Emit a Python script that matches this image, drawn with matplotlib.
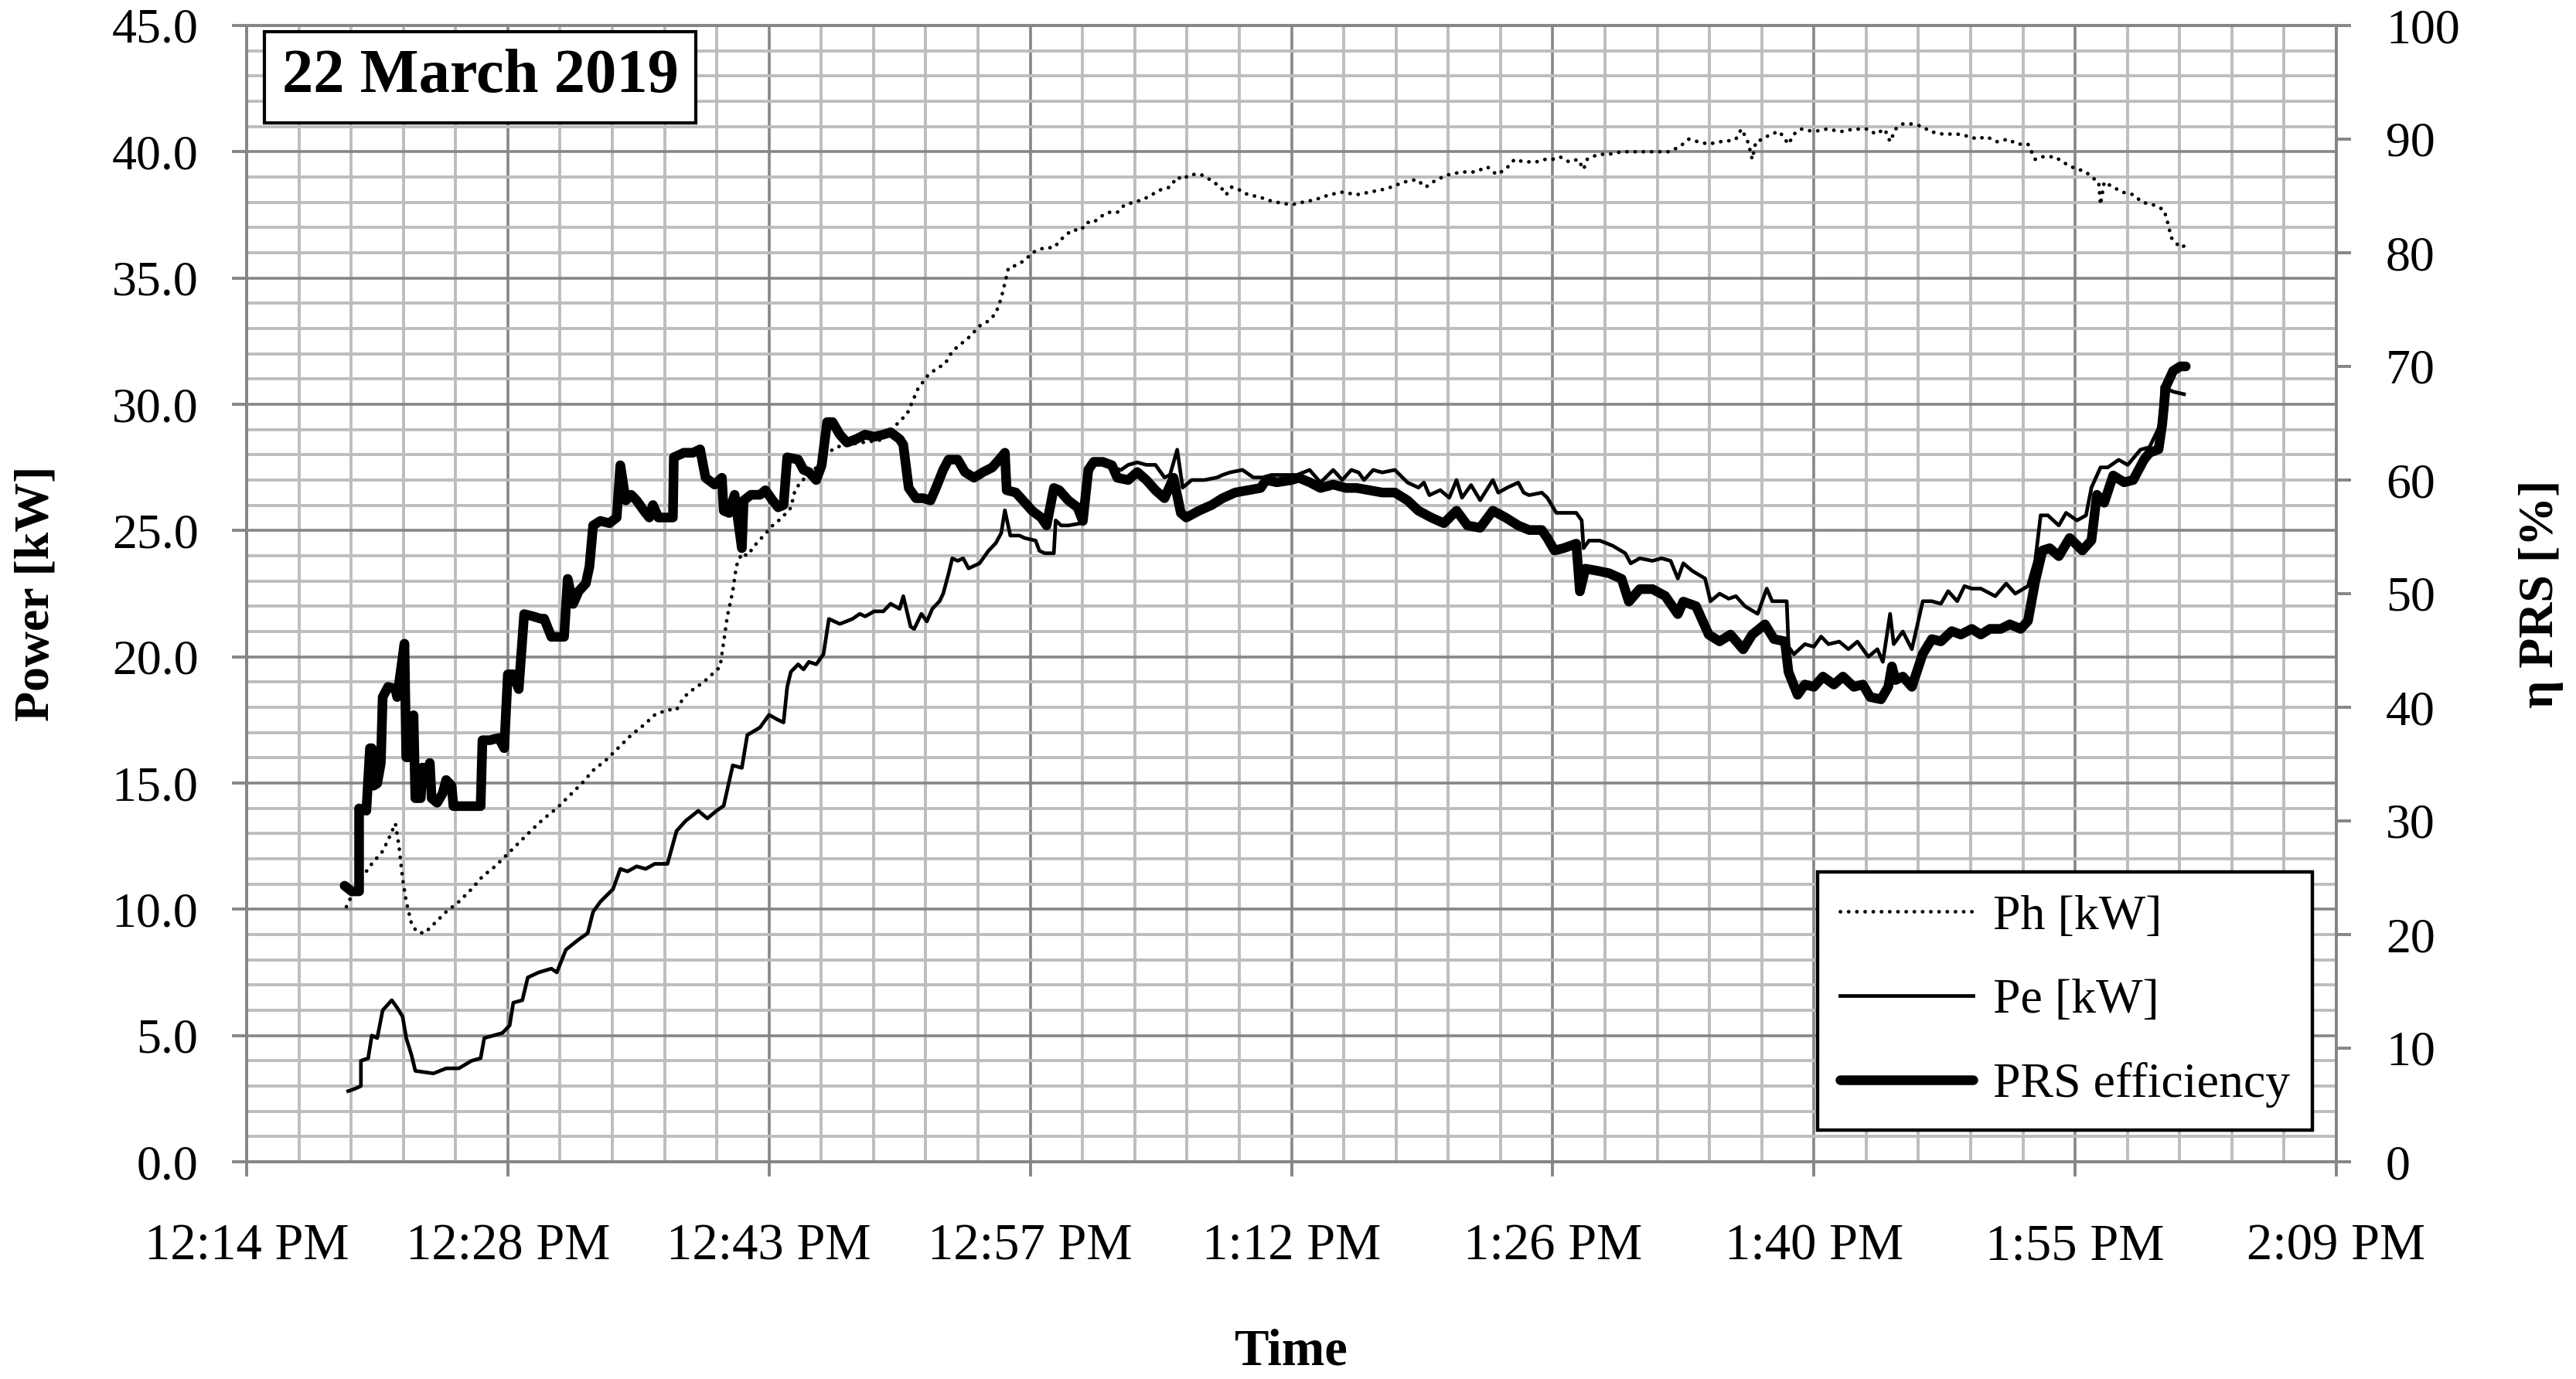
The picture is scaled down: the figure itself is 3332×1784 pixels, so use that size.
import numpy as np
import matplotlib.pyplot as plt
from matplotlib.ticker import MultipleLocator, FixedLocator, FuncFormatter

plt.rcParams['font.family'] = ['Liberation Serif', 'DejaVu Serif']

# time axis: minutes after 12:00 (12:14.4 PM .. 2:09.6 PM = 0.51 .. 0.59 day)
x_ticks = [14.4, 28.8, 43.2, 57.6, 72.0, 86.4, 100.8, 115.2, 129.6]
x_tick_labels = ['12:14 PM', '12:28 PM', '12:43 PM', '12:57 PM', '1:12 PM',
                 '1:26 PM', '1:40 PM', '1:55 PM', '2:09 PM']

# Ph [kW] (dotted)
ph_t = [19.9, 20.3, 20.8, 21.3, 21.9, 22.3, 22.6, 22.8, 23.0, 23.2, 23.5, 23.8, 24.2, 24.7,
        25.4, 26.1, 26.8, 27.4, 28.1, 28.8, 29.5, 30.2, 30.8, 31.5, 32.2, 32.9, 33.5, 34.2,
        34.9, 35.6, 36.3, 36.9, 37.6, 38.1, 38.5, 39.0, 39.6, 40.2, 40.5, 40.7, 40.9, 41.2,
        41.4, 41.7, 42.0, 42.4, 42.9, 43.4, 43.9, 44.4, 44.6, 44.9, 45.7, 46.3, 46.9, 47.5,
        48.5, 49.5, 50.1, 50.5, 50.8, 51.1, 51.4, 51.9, 52.4, 52.9, 53.3, 53.8, 54.3, 54.8,
        55.3, 55.7, 56.0, 56.2, 56.4, 56.8, 57.3, 57.7, 58.0, 58.4, 58.9, 59.4, 59.9, 60.4,
        60.7, 61.1, 61.4, 61.9, 62.4, 62.8, 63.3, 63.8, 64.3, 64.8, 65.3, 65.7, 66.0, 66.4,
        67.0, 67.5, 68.1, 68.4, 68.7, 69.1, 69.6, 70.3, 70.6, 71.2, 72.0, 72.6, 73.3, 74.1,
        74.8, 75.6, 76.3, 77.0, 77.5, 78.2, 78.9, 79.4, 80.0, 80.7, 81.4, 82.1, 82.8, 83.3,
        83.8, 84.3, 84.8, 85.5, 86.0, 86.4, 86.8, 87.3, 87.8, 88.1, 88.3, 88.9, 89.5, 90.2,
        90.7, 91.4, 92.1, 92.8, 93.4, 93.9, 94.4, 95.0, 95.6, 95.9, 96.5, 96.8, 97.1, 97.2,
        97.4, 97.6, 98.0, 98.4, 98.9, 99.4, 99.7, 100.1, 100.8, 101.5, 102.3, 103.0, 103.8,
        104.2, 104.7, 105.0, 105.3, 105.7, 106.2, 106.8, 107.2, 107.9, 108.7, 109.4, 109.8,
        110.3, 110.9, 111.5, 112.0, 112.6, 113.0, 113.3, 114.1, 114.5, 115.0, 115.8, 116.1,
        116.5, 116.6, 116.8, 117.3, 117.8, 118.4, 118.9, 119.5, 120.1, 120.3, 120.5, 121.0,
        121.3]
ph_kw = [10.1, 10.7, 11.3, 11.8, 12.3, 12.9, 13.4, 12.5, 11.2, 10.3, 9.4, 9.1, 9.05, 9.4,
         9.9, 10.3, 10.8, 11.3, 11.7, 12.2, 12.7, 13.2, 13.6, 14.0, 14.5, 15.0, 15.5, 15.9,
         16.4, 16.9, 17.3, 17.7, 17.9, 17.9, 18.4, 18.7, 19.0, 19.4, 19.6, 20.6, 21.6, 22.6,
         23.6, 24.1, 24.0, 24.4, 24.8, 25.2, 25.5, 25.9, 26.5, 26.9, 27.4, 28.0, 28.3, 28.4,
         28.5, 28.6, 29.1, 29.4, 29.6, 30.1, 30.6, 31.1, 31.4, 31.6, 32.1, 32.4, 32.7, 33.1,
         33.3, 33.6, 34.2, 34.8, 35.4, 35.5, 35.7, 36.0, 36.1, 36.2, 36.2, 36.6, 36.9, 36.9,
         37.2, 37.2, 37.4, 37.6, 37.6, 37.9, 38.0, 38.1, 38.3, 38.5, 38.6, 39.0, 38.9, 39.1,
         39.1, 38.9, 38.6, 38.3, 38.6, 38.5, 38.3, 38.2, 38.1, 38.0, 37.9, 38.0, 38.1, 38.3,
         38.4, 38.3, 38.4, 38.5, 38.6, 38.8, 38.9, 38.6, 38.9, 39.1, 39.2, 39.2, 39.4, 39.1,
         39.3, 39.7, 39.6, 39.6, 39.7, 39.7, 39.8, 39.6, 39.7, 39.3, 39.7, 39.9, 39.9, 40.0,
         40.0, 40.0, 40.0, 40.0, 40.2, 40.5, 40.4, 40.3, 40.4, 40.4, 40.5, 40.9, 40.5, 40.3,
         39.7, 40.4, 40.5, 40.7, 40.8, 40.3, 40.7, 40.9, 40.8, 40.9, 40.8, 40.9, 40.9,
         40.7, 40.9, 40.4, 40.9, 41.1, 41.1, 41.0, 40.8, 40.7, 40.7, 40.6, 40.5,
         40.6, 40.4, 40.5, 40.3, 40.3, 39.7, 39.8, 39.8, 39.6, 39.4, 39.2, 39.0,
         38.8, 37.9, 38.8, 38.6, 38.4, 38.3, 38.0, 37.9, 37.7, 37.2, 36.6, 36.2,
         36.3]

# Pe [kW] (thin)
pe_t = [20.0, 20.4, 20.7, 20.7, 21.1, 21.3, 21.6, 21.9, 22.4, 22.7, 23.0, 23.2, 23.5, 23.7,
        24.2, 24.7, 25.4, 26.1, 26.8, 27.3, 27.5, 28.0, 28.5, 28.9, 29.1, 29.6, 29.9, 30.5,
        31.2, 31.5, 32.0, 32.7, 33.2, 33.5, 33.9, 34.6, 35.0, 35.4, 35.9, 36.4, 36.9, 37.6,
        38.1, 38.6, 39.3, 39.8, 40.3, 40.7, 41.2, 41.7, 42.0, 42.7, 43.2, 43.7, 44.0, 44.2,
        44.4, 44.8, 45.1, 45.4, 45.8, 46.2, 46.5, 47.1, 47.8, 48.2, 48.5, 49.0, 49.5, 49.9,
        50.4, 50.6, 51.0, 51.2, 51.6, 51.9, 52.2, 52.6, 52.8, 53.1, 53.3, 53.6, 53.9, 54.2,
        54.8, 55.3, 55.7, 56.0, 56.2, 56.5, 57.0, 57.3, 57.9, 58.1, 58.4, 58.9, 59.0, 59.3,
        59.7, 60.5, 60.8, 61.1, 61.6, 62.1, 62.6, 63.0, 63.5, 64.0, 64.5, 65.0, 65.3, 65.7,
        66.0, 66.5, 67.2, 67.9, 68.2, 68.6, 69.3, 69.9, 70.4, 70.9, 71.6, 72.3, 73.0, 73.6,
        74.3, 74.8, 75.3, 75.7, 76.0, 76.5, 77.0, 77.7, 78.4, 79.0, 79.3, 79.6, 80.2, 80.7,
        81.1, 81.4, 81.9, 82.4, 83.1, 83.4, 83.9, 84.5, 84.8, 85.1, 85.8, 86.1, 86.6, 87.3,
        87.7, 88.0, 88.1, 88.4, 89.0, 89.7, 90.4, 90.7, 91.2, 91.9, 92.4, 92.9, 93.3, 93.6,
        94.1, 94.8, 95.1, 95.6, 96.1, 96.5, 97.0, 97.7, 98.0, 98.2, 98.5, 99.3, 99.4, 99.7,
        100.3, 100.8, 101.2, 101.6, 102.2, 102.7, 103.2, 103.8, 104.3, 104.6, 105.0, 105.2,
        105.7, 106.2, 106.8, 107.3, 107.8, 108.2, 108.7, 109.1, 109.5, 110.0, 110.8, 111.4,
        111.9, 112.6, 113.0, 113.3, 113.7, 114.3, 114.7, 115.3, 115.8, 116.1, 116.6, 117.0,
        117.6, 118.1, 118.8, 119.3, 119.9, 120.0, 120.6, 121.2]
pe_kw = [2.8, 2.9, 3.0, 4.0, 4.1, 5.0, 4.9, 6.0, 6.4, 6.1, 5.75, 4.9, 4.2, 3.6,
         3.55, 3.5, 3.7, 3.7, 4.0, 4.1, 4.9, 5.0, 5.1, 5.4, 6.3, 6.4, 7.3, 7.5,
         7.65, 7.5, 8.4, 8.8, 9.05, 9.9, 10.3, 10.8, 11.6, 11.5, 11.7, 11.6, 11.8, 11.8,
         13.1, 13.5, 13.9, 13.6, 13.9, 14.1, 15.7, 15.6, 16.9, 17.2, 17.7, 17.5, 17.4, 18.8,
         19.4, 19.7, 19.5, 19.8, 19.7, 20.1, 21.5, 21.3, 21.5, 21.7, 21.6, 21.8, 21.8, 22.1,
         21.9, 22.4, 21.2, 21.1, 21.7, 21.4, 21.9, 22.2, 22.5, 23.3, 23.9, 23.8, 23.9, 23.5,
         23.7, 24.2, 24.5, 24.9, 25.8, 24.8, 24.8, 24.7, 24.6, 24.2, 24.1, 24.1, 25.4, 25.2,
         25.2, 25.3, 27.3, 27.6, 27.7, 27.5, 27.4, 27.6, 27.7, 27.6, 27.6, 27.1, 27.2, 28.2,
         26.7, 27.0, 27.0, 27.1, 27.2, 27.3, 27.4, 27.1, 27.1, 27.2, 27.2, 27.2, 27.4, 26.9,
         27.4, 27.0, 27.4, 27.3, 27.0, 27.4, 27.3, 27.4, 26.9, 26.7, 26.9, 26.4, 26.6, 26.3,
         27.0, 26.3, 26.8, 26.2, 27.0, 26.5, 26.7, 26.9, 26.5, 26.4, 26.5, 26.3, 25.7, 25.7,
         25.7, 25.4, 24.3, 24.6, 24.6, 24.4, 24.1, 23.7, 23.9, 23.8, 23.9, 23.8, 23.1, 23.7,
         23.4, 23.1, 22.2, 22.5, 22.3, 22.4, 22.0, 21.7, 22.3, 22.7, 22.2, 22.2, 20.4, 20.1,
         20.5, 20.4, 20.8, 20.5, 20.6, 20.3, 20.6, 20.0, 20.3, 19.8, 21.7, 20.5,
         21.0, 20.3, 22.2, 22.2, 22.1, 22.6, 22.2, 22.8, 22.7, 22.7, 22.4, 22.9,
         22.5, 22.8, 23.8, 25.6, 25.6, 25.2, 25.7, 25.4, 25.6, 26.7, 27.5, 27.5,
         27.8, 27.6, 28.2, 28.3, 29.2, 30.7, 30.5, 30.4]

# PRS efficiency [%] (thick, right axis)
prs_t = [19.8, 20.2, 20.6, 20.6, 21.0, 21.2, 21.3, 21.4, 21.6, 21.8, 21.9, 22.2, 22.6, 22.7,
         23.1, 23.2, 23.5, 23.6, 23.7, 24.0, 24.1, 24.3, 24.5, 24.6, 24.9, 25.2, 25.4, 25.7,
         25.8, 26.3, 26.8, 27.3, 27.4, 27.8, 28.3, 28.6, 28.8, 29.1, 29.4, 29.7, 30.2, 30.6,
         30.8, 31.2, 31.5, 31.9, 32.1, 32.4, 32.7, 33.1, 33.3, 33.5, 33.9, 34.4, 34.8, 35.0,
         35.3, 35.6, 35.9, 36.3, 36.6, 36.8, 37.1, 37.9, 37.95, 38.5, 39.0, 39.4, 39.7, 40.2,
         40.6, 40.7, 41.0, 41.3, 41.7, 41.8, 42.2, 42.7, 43.0, 43.4, 43.7, 44.0, 44.2, 44.8,
         45.1, 45.4, 45.8, 46.1, 46.4, 46.7, 47.1, 47.5, 48.0, 48.5, 49.0, 49.5, 49.9, 50.4,
         50.6, 50.9, 51.3, 51.7, 52.1, 52.4, 52.8, 53.1, 53.6, 54.0, 54.5, 55.0, 55.5, 56.0,
         56.2, 56.3, 56.8, 57.2, 57.7, 58.2, 58.5, 58.9, 59.2, 59.7, 60.2, 60.5, 60.8, 61.1,
         61.6, 62.1, 62.4, 63.0, 63.5, 64.0, 64.5, 65.0, 65.5, 65.9, 66.2, 66.9, 67.6, 68.2,
         68.9, 69.6, 70.3, 70.6, 71.2, 72.0, 72.4, 73.0, 73.6, 74.3, 75.0, 75.6, 76.3, 77.0,
         77.7, 78.4, 79.0, 79.7, 80.4, 81.1, 81.7, 82.4, 83.1, 83.8, 84.5, 85.1, 85.8, 86.1,
         86.5, 87.0, 87.7, 87.9, 88.2, 88.9, 89.5, 90.2, 90.6, 91.2, 91.9, 92.6, 93.3, 93.6,
         94.3, 95.0, 95.6, 96.2, 96.9, 97.4, 98.1, 98.6, 99.2, 99.4, 99.9, 100.3, 100.8,
         101.3, 101.9, 102.4, 103.0, 103.5, 103.9, 104.5, 104.9, 105.1, 105.3, 105.7, 106.2,
         106.8, 107.3, 107.8, 108.4, 108.9, 109.5, 110.0, 110.5, 111.1, 111.6, 112.2, 112.6,
         113.0, 113.4, 113.8, 114.3, 114.9, 115.6, 116.1, 116.4, 116.8, 117.3, 117.9, 118.4,
         119.0, 119.3, 119.8, 120.0, 120.2, 120.6, 121.0, 121.3]
prs_pct = [24.3, 23.8, 23.8, 31.1, 30.9, 36.4, 36.4, 33.1, 33.3, 35.1, 40.9, 41.8, 41.6, 40.9,
           45.6, 35.6, 35.6, 39.3, 32.0, 32.0, 34.7, 34.0, 35.1, 32.0, 31.6, 32.4, 33.6, 33.1,
           31.3, 31.3, 31.3, 31.3, 37.1, 37.1, 37.3, 36.4, 42.9, 42.9, 41.6, 48.2, 48.0, 47.8,
           47.8, 46.2, 46.2, 46.2, 51.3, 49.1, 50.2, 50.9, 52.4, 56.0, 56.4, 56.2, 56.7, 61.3,
           58.2, 58.7, 58.2, 57.3, 56.7, 57.8, 56.7, 56.7, 62.0, 62.4, 62.4, 62.7, 60.2, 59.6,
           60.2, 57.3, 57.1, 58.7, 54.0, 58.2, 58.7, 58.7, 59.1, 58.2, 57.6, 57.8, 62.0, 61.8,
           60.9, 60.7, 60.0, 61.3, 65.1, 65.1, 64.0, 63.3, 63.6, 64.0, 63.8, 64.0, 64.2, 63.6,
           63.1, 59.3, 58.4, 58.4, 58.2, 59.3, 60.9, 61.8, 61.8, 60.7, 60.2, 60.7, 61.1, 62.0,
           62.4, 59.1, 58.9, 58.2, 57.3, 56.7, 56.0, 59.3, 59.1, 58.2, 57.6, 56.4, 60.9, 61.6,
           61.6, 61.3, 60.2, 60.0, 60.7, 60.0, 59.1, 58.4, 60.2, 57.1, 56.7, 57.3, 57.8, 58.4,
           58.9, 59.1, 59.3, 60.0, 59.8, 60.0, 60.2, 59.8, 59.3, 59.6, 59.3, 59.3, 59.1, 58.9,
           58.9, 58.2, 57.3, 56.7, 56.2, 57.3, 56.0, 55.8, 57.3, 56.7, 56.0, 55.6, 55.6, 54.9,
           53.8, 54.0, 54.4, 50.2, 52.2, 52.0, 51.8, 51.3, 49.3, 50.4, 50.4, 49.8, 48.2, 49.3,
           48.9, 46.4, 45.8, 46.4, 45.1, 46.4, 47.3, 46.0, 45.8, 43.1, 41.1, 42.0, 41.8,
           42.7, 42.0, 42.7, 41.8, 42.0, 40.9, 40.7, 41.8, 43.6, 42.4, 42.7, 41.8,
           44.7, 46.0, 45.8, 46.7, 46.4, 46.9, 46.4, 46.9, 46.9, 47.3, 46.9, 47.6,
           51.1, 53.8, 54.0, 53.3, 54.9, 53.8, 54.7, 58.7, 58.0, 60.4, 59.8, 60.0,
           61.8, 62.4, 62.7, 64.9, 68.2, 69.6, 70.0, 70.0]

GRID_MAJOR = '#868686'
GRID_MINOR = '#bdbdbd'


def main():
    fig = plt.figure(figsize=(33.32, 17.84), dpi=100)
    ax = fig.add_axes([319 / 3332, 281 / 1784, 2703 / 3332, 1470 / 1784])
    ax2 = ax.twinx()

    # grid on the power axis
    ax.set_xlim(14.4, 129.6)
    ax.set_ylim(0, 45)
    ax.xaxis.set_major_locator(FixedLocator(x_ticks))
    ax.xaxis.set_minor_locator(MultipleLocator(2.88))
    ax.yaxis.set_major_locator(MultipleLocator(5))
    ax.yaxis.set_minor_locator(MultipleLocator(1))
    ax.set_xticklabels(x_tick_labels)
    ax.yaxis.set_major_formatter(FuncFormatter(lambda v, p: '%.1f' % v))
    ax.grid(which='minor', color=GRID_MINOR, lw=2.8, zorder=0)
    ax.grid(which='major', color=GRID_MAJOR, lw=2.6, zorder=0)
    ax.set_axisbelow(True)

    ax.plot(ph_t, ph_kw, color='black', lw=3.4, ls=(0, (0.05, 2.2)),
            dash_capstyle='round', label='Ph [kW]', zorder=3)
    ax.plot(pe_t, pe_kw, color='black', lw=3.4, label='Pe [kW]', zorder=3)

    ax2.set_ylim(0, 100)
    ax2.yaxis.set_major_locator(MultipleLocator(10))
    ax2.plot(prs_t, prs_pct, color='black', lw=9, solid_joinstyle='round',
             solid_capstyle='round', label='PRS efficiency', zorder=4)

    for a in (ax, ax2):
        for s in a.spines.values():
            s.set_color(GRID_MAJOR)
            s.set_linewidth(2.8)
    ax.tick_params(axis='both', which='major', length=14, width=2.8, color=GRID_MAJOR)
    ax.tick_params(axis='x', pad=43, labelsize=48)
    ax.tick_params(axis='y', pad=31, labelsize=46)
    ax.tick_params(which='minor', length=0)
    ax2.tick_params(axis='y', length=14, width=2.8, color=GRID_MAJOR, labelsize=46, pad=32)

    ax.set_ylabel('Power [kW]', fontsize=46, fontweight='bold', labelpad=49)
    ax2.set_ylabel('η PRS [%]', fontsize=46, fontweight='bold', labelpad=55)
    ax.set_xlabel('Time', fontsize=48, fontweight='bold', labelpad=54)

    # date box
    fig.text(621 / 3332, 1 - 100 / 1784, '22 March 2019', fontsize=58, fontweight='bold',
             ha='center', va='center',
             bbox=dict(boxstyle='square,pad=0.28', fc='white', ec='black', lw=3))

    handles = ax.get_lines() + ax2.get_lines()
    leg = ax2.legend(handles, [h.get_label() for h in handles], loc='lower right',
                     bbox_to_anchor=(0.9885, 0.028), fontsize=46, frameon=True,
                     fancybox=False, framealpha=1, edgecolor='black',
                     handlelength=2.7, handletextpad=0.4, labelspacing=0.78,
                     borderpad=0.45, borderaxespad=0)
    leg.get_frame().set_linewidth(3.2)

    fig.savefig('out.png', dpi=100)


if __name__ == "__main__":
    main()
